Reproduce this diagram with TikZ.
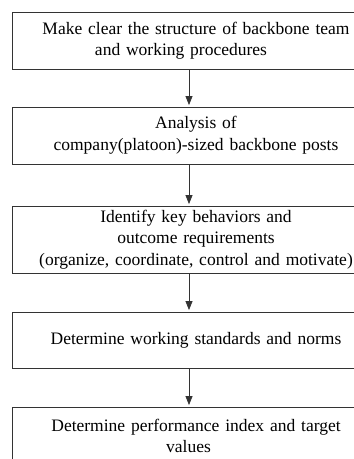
\documentclass[tikz,border=0pt]{standalone}
\usepackage{fontspec}
\setmainfont{Liberation Serif}
\usetikzlibrary{arrows.meta,positioning}

\begin{document}
\begin{tikzpicture}[x=1pt,y=1pt]
		\tikzstyle{every node}=[font=\fontsize{17.5}{21.7}\selectfont]
		\tikzstyle{stepbox}=[draw=black!80, line width=0.8pt, minimum width=366.6pt, inner sep=0pt, text width=345pt, align=center]
		\tikzstyle{flow}=[line width=0.8pt, draw=black!80, -{Triangle[width=7pt,length=9pt]}, shorten >=1.5pt]
		\useasboundingbox (0,-459) rectangle (354,0);
		\node [stepbox, minimum height=56.7pt] (team) at (196,-40.7) {Make clear the structure of backbone team\\ and working procedures\hspace*{30pt}\mbox{}};
		\node [stepbox, minimum height=57pt] (posts) at (196,-135.5) {Analysis of\\ company(platoon)-sized backbone posts};
		\node [stepbox, minimum height=67pt] (behav) at (196,-239.5) {Identify key behaviors and\\ outcome requirements\\ (organize, coordinate, control and motivate)};
		\node [stepbox, minimum height=56pt] (norms) at (196,-340) {Determine working standards and norms};
		\node [stepbox, minimum height=58pt] (index) at (196,-436) {Determine performance index and target\\ values\hspace*{15pt}\mbox{}};
		\draw [flow] ([xshift=-7pt]team.south) -- ([xshift=-7pt]posts.north);
		\draw [flow] ([xshift=-7pt]posts.south) -- ([xshift=-7pt]behav.north);
		\draw [flow] ([xshift=-7pt]behav.south) -- ([xshift=-7pt]norms.north);
		\draw [flow] ([xshift=-7pt]norms.south) -- ([xshift=-7pt]index.north);
	\end{tikzpicture}
\end{document}
